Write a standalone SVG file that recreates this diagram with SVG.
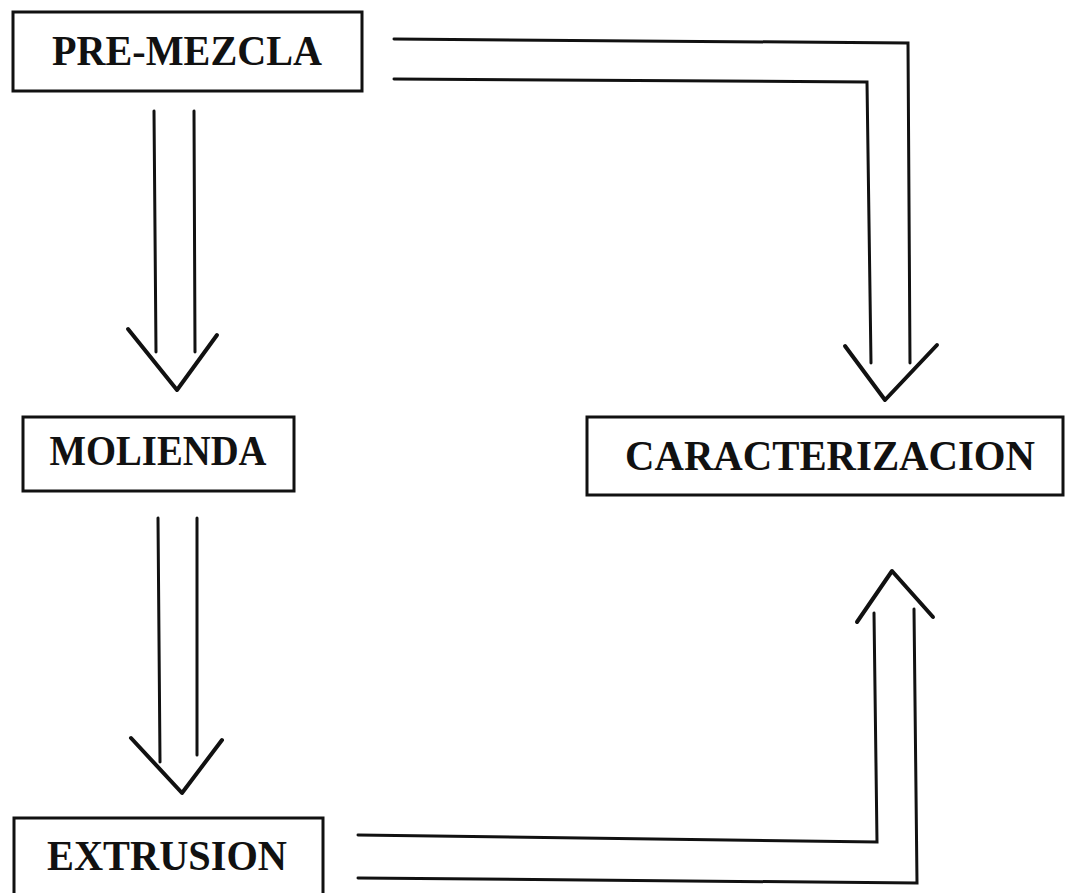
<svg xmlns="http://www.w3.org/2000/svg" width="1073" height="893" viewBox="0 0 1073 893">
<style>
.box{fill:none;stroke:#111;stroke-width:3}
.lbl{font-family:"Liberation Serif","Times New Roman",serif;font-weight:bold;font-size:43px;fill:#111;text-anchor:middle}
.ln{fill:none;stroke:#111;stroke-width:3;stroke-linecap:round;stroke-linejoin:miter}
.hd{fill:none;stroke:#111;stroke-width:4;stroke-linecap:round;stroke-linejoin:round}
</style>
<rect width="1073" height="893" fill="#fff"/>
<g id="connectors">
  <!-- PRE-MEZCLA to MOLIENDA -->
  <path class="ln" d="M154 111 L156 352 M194 111 L195 352"/>
  <path class="hd" d="M128 329 L177 390 L217 335"/>
  <!-- MOLIENDA to EXTRUSION -->
  <path class="ln" d="M158 518 L160 762 M197 518 L197 755"/>
  <path class="hd" d="M131 738 L182 793 L222 740"/>
  <!-- PRE-MEZCLA to CARACTERIZACION -->
  <path class="ln" d="M394 39 L908 43 L910 363 M394 79 L867 82 L871 363"/>
  <path class="hd" d="M845 346 L885 400 L937 345"/>
  <!-- EXTRUSION to CARACTERIZACION -->
  <path class="ln" d="M358 835 L877 842 L874 613 M358 878 L917 883 L914 609"/>
  <path class="hd" d="M857 622 L892 571 L933 617"/>
</g>
<g id="pre-mezcla">
  <rect class="box" x="13" y="12" width="349" height="79"/>
  <text class="lbl" x="187" y="65" textLength="270" lengthAdjust="spacingAndGlyphs">PRE-MEZCLA</text>
</g>
<g id="molienda">
  <rect class="box" x="23" y="417" width="271" height="74"/>
  <text class="lbl" x="158" y="465" textLength="217" lengthAdjust="spacingAndGlyphs">MOLIENDA</text>
</g>
<g id="caracterizacion">
  <rect class="box" x="587" y="417" width="476" height="78"/>
  <text class="lbl" x="830" y="470" textLength="410" lengthAdjust="spacingAndGlyphs">CARACTERIZACION</text>
</g>
<g id="extrusion">
  <rect class="box" x="14" y="818" width="309" height="90"/>
  <text class="lbl" x="167" y="870" textLength="240" lengthAdjust="spacingAndGlyphs">EXTRUSION</text>
</g>
</svg>
